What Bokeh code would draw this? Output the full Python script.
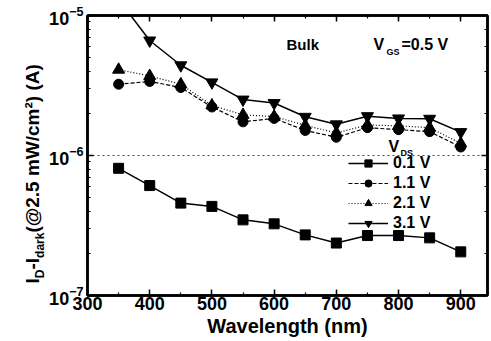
import math
from bokeh.plotting import figure
from bokeh.layouts import row
from bokeh.models import (LinearAxis, LogAxis, SingleIntervalTicker,
                          Span, Label, Legend, LegendItem, Range1d)
from bokeh.embed import file_html
from bokeh.resources import INLINE

# ---------------- data ----------------
wavelength = [350, 400, 450, 500, 550, 600, 650, 700, 750, 800, 850, 900]
i_vds_01 = [8.1e-7, 6.1e-7, 4.57e-7, 4.33e-7, 3.47e-7, 3.25e-7, 2.71e-7, 2.37e-7, 2.68e-7, 2.68e-7, 2.58e-7, 2.05e-7]
i_vds_11 = [3.23e-6, 3.38e-6, 3.06e-6, 2.22e-6, 1.74e-6, 1.84e-6, 1.51e-6, 1.35e-6, 1.58e-6, 1.53e-6, 1.48e-6, 1.15e-6]
i_vds_21 = [4.1e-6, 3.7e-6, 3.23e-6, 2.28e-6, 1.95e-6, 1.9e-6, 1.64e-6, 1.45e-6, 1.65e-6, 1.63e-6, 1.58e-6, 1.22e-6]
i_vds_31 = [1.3e-5, 6.63e-6, 4.41e-6, 3.33e-6, 2.51e-6, 2.37e-6, 1.89e-6, 1.67e-6, 1.91e-6, 1.84e-6, 1.83e-6, 1.47e-6]
series_labels = ["0.1 V", "1.1 V", "2.1 V", "3.1 V"]
x_label = "Wavelength (nm)"

FONT = "Liberation Sans"
LEFT_W = 46
H = 341

p = figure(width=491 - LEFT_W, height=H, output_backend="svg", toolbar_location=None,
           y_axis_type="log", x_range=Range1d(300, 943), y_range=Range1d(1e-7, 1e-5),
           min_border_left=84 - LEFT_W, min_border_right=4, min_border_top=15,
           min_border_bottom=46)
p.xgrid.visible = False
p.ygrid.visible = False
p.outline_line_color = "black"
p.outline_line_width = 2.5
p.background_fill_color = "white"
p.border_fill_color = "white"

p.xaxis.ticker = SingleIntervalTicker(interval=100, num_minor_ticks=2)

def style_axis(ax, labels=True):
    ax.axis_line_width = 2.5
    ax.axis_line_color = "black"
    ax.major_tick_in = 6
    ax.major_tick_out = 0
    ax.minor_tick_in = 3
    ax.minor_tick_out = 0
    ax.major_tick_line_width = 1.5
    ax.minor_tick_line_width = 1.2
    ax.major_label_text_font = FONT
    ax.major_label_text_font_style = "bold"
    if labels:
        ax.major_label_text_font_size = "18px"
        ax.major_label_text_color = "black"
    else:
        ax.major_label_text_font_size = "1px"
        ax.major_label_text_color = None
        ax.major_label_standoff = 0

style_axis(p.xaxis[0])
style_axis(p.yaxis[0])
p.xaxis.major_label_standoff = 1
p.yaxis.major_label_standoff = 4
p.xaxis.axis_label = x_label
p.xaxis.axis_label_text_font = FONT
p.xaxis.axis_label_text_font_style = "bold"
p.xaxis.axis_label_text_font_size = "20px"
p.xaxis.axis_label_text_color = "black"
p.xaxis.axis_label_standoff = 2

top_ax = LinearAxis(ticker=SingleIntervalTicker(interval=100, num_minor_ticks=2))
style_axis(top_ax, labels=False)
p.add_layout(top_ax, "above")
right_ax = LogAxis()
style_axis(right_ax, labels=False)
p.add_layout(right_ax, "right")

p.add_layout(Span(location=1e-6, dimension="width", line_color="black",
                  line_dash="2 3", line_width=1, line_alpha=0.7))

styles = [
    dict(marker="square", size=10, dash="solid", lw=1.5),
    dict(marker="circle", size=10, dash="4 2", lw=1.2),
    dict(marker="triangle", size=12, dash="1 2", lw=1.2),
    dict(marker="inverted_triangle", size=12, dash="solid", lw=1.5),
]
series = [i_vds_01, i_vds_11, i_vds_21, i_vds_31]
items = []
for lab_txt, ys, st in zip(series_labels, series, styles):
    rl = p.line(wavelength, ys, line_color="black", line_width=st["lw"], line_dash=st["dash"])
    rm = p.scatter(wavelength, ys, marker=st["marker"], size=st["size"],
                   fill_color="black", line_color="black")
    items.append(LegendItem(label=lab_txt, renderers=[rl, rm]))

legend = Legend(items=items, location=(261, 63), padding=0, margin=0, spacing=2,
                glyph_width=40, glyph_height=18, label_height=18, label_standoff=5,
                border_line_color=None, background_fill_alpha=0,
                label_text_font=FONT, label_text_font_style="bold",
                label_text_font_size="16px", label_text_color="black")
p.add_layout(legend)

def lab(fig, text, x, y, size, angle=0.0):
    fig.add_layout(Label(x=x, y=y, x_units="screen", y_units="screen", text=text,
                         text_font=FONT, text_font_style="bold", text_font_size=f"{size}px",
                         angle=angle, text_baseline="alphabetic", text_align="left",
                         text_color="black"))

# in-frame texts (frame-relative, y up)
lab(p, "Bulk", 199, 251, 15)
lab(p, "V", 286, 251, 16)
lab(p, "GS", 299, 244, 9)
lab(p, "=0.5 V", 314, 251, 16)
lab(p, "V", 301, 149, 16)
lab(p, "DS", 313, 143, 9)

# ---- narrow side figure holding the rotated y-axis title ----
side = figure(width=LEFT_W, height=H, output_backend="svg", toolbar_location=None,
              x_axis_location=None, y_axis_location=None, min_border=0,
              x_range=Range1d(0, LEFT_W), y_range=Range1d(0, H))
side.outline_line_color = None
side.xgrid.visible = False
side.ygrid.visible = False
side.background_fill_color = "white"
side.border_fill_color = "white"

W = {'I': 278, 'D': 722, '-': 333, 'd': 611, 'a': 556, 'r': 389, 'k': 556, '(': 333,
     '@': 975, '2': 556, '.': 278, '5': 556, ' ': 278, 'm': 889, 'W': 944, '/': 278,
     'c': 556, ')': 333, 'A': 722, '\u00b2': 333}

def tw(s, size):
    return sum(W.get(ch, 556) for ch in s) * size / 1000.0

ylabel_parts = [("I", "main"), ("D", "sub"), ("-I", "main"), ("dark", "sub"),
                ("(@2.5 mW/cm\u00b2) (A)", "main")]
base_x = {"main": 32, "sub": 39}
sizes = {"main": 19, "sub": 12}
yy = 12.0
for txt, role in ylabel_parts:
    lab(side, txt, base_x[role], yy, sizes[role], angle=math.pi / 2)
    yy += tw(txt, sizes[role])

layout = row(side, p, spacing=0)
open("out.html", "w").write(file_html(layout, INLINE))
